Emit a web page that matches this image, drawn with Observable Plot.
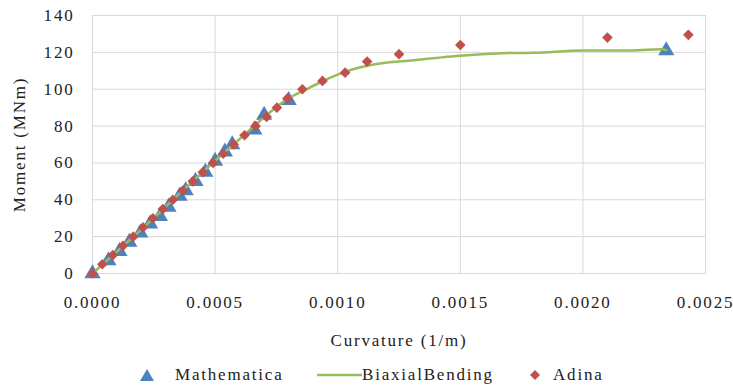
<!DOCTYPE html>
<html>
<head>
<meta charset="utf-8">
<script src="https://cdn.jsdelivr.net/npm/d3@7"></script>
<script src="https://cdn.jsdelivr.net/npm/@observablehq/plot@0.6"></script>
<style>
  html, body { margin: 0; padding: 0; background: #fff; }
  #chart { width: 733px; }
  .legend { position: relative; width: 733px; height: 30px; font-family: "Liberation Serif", "Times New Roman", Tinos, serif; font-size: 17px; letter-spacing: 1.8px; color: #222; }
  .legend .item { position: absolute; top: 0; height: 30px; display: flex; align-items: center; }
  .legend svg { display: block; }
</style>
</head>
<body>
<div id="chart"></div>
<script>
// Mathematica (triangles)
const mathCurv = [0, 0.000065, 0.000110, 0.000150, 0.000195, 0.000235, 0.000275, 0.000310, 0.000355, 0.000380, 0.000420, 0.000460, 0.000500, 0.000540, 0.000570, 0.000660, 0.000700, 0.000800, 0.00234];
const mathMom  = [0, 7, 12, 17, 22, 27, 31, 36, 42, 45, 50, 55, 61, 66, 70, 78, 86, 94, 121];

// BiaxialBending (line)
const biaxCurv = [0, 0.0002, 0.0004, 0.0006, 0.0008, 0.00088, 0.00095, 0.00102, 0.00113, 0.0013, 0.0015, 0.0017, 0.0018, 0.0020, 0.0022, 0.00232, 0.00234];
const biaxMom  = [0, 24, 49, 73, 95, 100.5, 105, 109, 113, 115.6, 118.2, 119.6, 119.8, 121, 121, 121.7, 121.2];

// Adina (diamonds)
const adinaCurv = [0, 0.000040, 0.000083, 0.000124, 0.000166, 0.000206, 0.000246, 0.000287, 0.000328, 0.000368, 0.000409, 0.000450, 0.000492, 0.000533, 0.000576, 0.000620, 0.000665, 0.000710, 0.000752, 0.000795, 0.000856, 0.000938, 0.00103, 0.00112, 0.00125, 0.00150, 0.00210, 0.00243];
const adinaMom  = [0, 5, 10, 15, 20, 25, 30, 35, 40, 45, 50, 55, 60, 65, 70, 75, 80, 85, 90, 95, 100, 104.5, 109, 115, 119, 124, 128, 129.5];

const xTicks = [0, 0.0005, 0.0010, 0.0015, 0.0020, 0.0025];
const yTicks = [0, 20, 40, 60, 80, 100, 120, 140];

const seriesNames = ["Mathematica", "BiaxialBending", "Adina"];
const seriesColors = ["#4F81BD", "#9BBB59", "#C0504D"];

const mathData = mathCurv.map((c, i) => ({c, m: mathMom[i]}));
const biaxData = biaxCurv.map((c, i) => ({c, m: biaxMom[i]}));
const adinaData = adinaCurv.map((c, i) => ({c, m: adinaMom[i]}));

const chart = Plot.plot({
  width: 733,
  height: 360,
  marginTop: 15,
  marginLeft: 92,
  marginRight: 28,
  marginBottom: 87,
  style: {fontFamily: "'Liberation Serif', 'Times New Roman', Tinos, serif", fontSize: "17px", letterSpacing: "1.8px", color: "#222", background: "#fff"},
  x: {domain: [0, 0.0025]},
  y: {domain: [0, 140]},
  marks: [
    Plot.gridX(xTicks, {stroke: "#d9d9d9", strokeOpacity: 1}),
    Plot.gridY(yTicks, {stroke: "#d9d9d9", strokeOpacity: 1}),
    Plot.frame({stroke: "#d9d9d9"}),
    Plot.axisX({ticks: xTicks, tickFormat: d3.format(".4f"), tickSize: 0, tickPadding: 22,
      label: "Curvature (1/m)", labelAnchor: "center", labelArrow: "none", labelOffset: 72}),
    Plot.axisY({ticks: yTicks, tickSize: 0, tickPadding: 18,
      label: "Moment (MNm)", labelAnchor: "center", labelArrow: "none", labelOffset: 80}),
    Plot.dot(mathData, {x: "c", y: "m", symbol: "triangle", r: 6, fill: seriesColors[0], stroke: "none"}),
    Plot.line(biaxData, {x: "c", y: "m", stroke: seriesColors[1], strokeWidth: 2.5, curve: "monotone-x"}),
    Plot.dot(adinaData, {x: "c", y: "m", symbol: "diamond2", r: 4.8, fill: seriesColors[2], stroke: "none"})
  ]
});
document.getElementById("chart").appendChild(chart);

// Legend (HTML, below the SVG)
const legend = document.createElement("div");
legend.className = "legend";
const items = [
  {left: 139, sym: "triangle"},
  {left: 317, sym: "line"},
  {left: 529, sym: "diamond"}
];
items.forEach((it, i) => {
  const el = document.createElement("div");
  el.className = "item";
  el.style.left = it.left + "px";
  let icon;
  if (it.sym === "triangle") {
    icon = `<svg width="36" height="16"><path d="M8,2 L15,14 L1,14 Z" fill="${seriesColors[i]}"/></svg>`;
  } else if (it.sym === "line") {
    icon = `<svg width="45" height="16"><line x1="0" y1="8" x2="45" y2="8" stroke="${seriesColors[i]}" stroke-width="2.5"/></svg>`;
  } else {
    icon = `<svg width="24" height="16"><path d="M6,3 L11,8 L6,13 L1,8 Z" fill="${seriesColors[i]}"/></svg>`;
  }
  el.innerHTML = icon + `<span>${seriesNames[i]}</span>`;
  legend.appendChild(el);
});
document.body.appendChild(legend);
</script>
</body>
</html>
